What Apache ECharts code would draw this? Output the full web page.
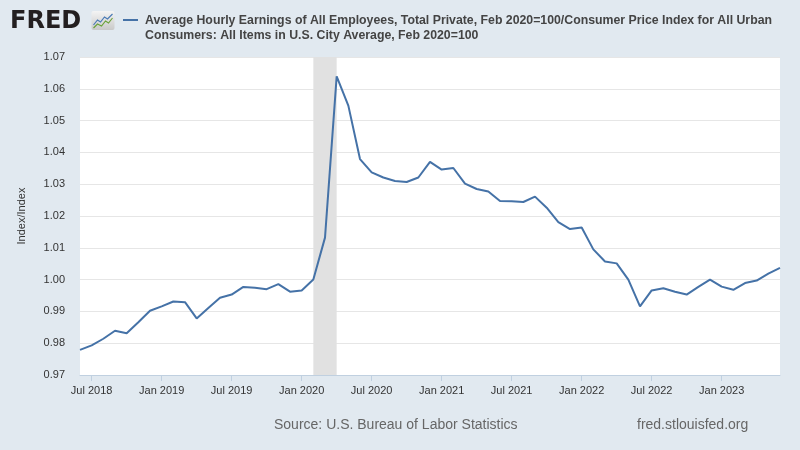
<!DOCTYPE html>
<html>
<head>
<meta charset="utf-8">
<script src="https://cdn.jsdelivr.net/npm/echarts@6/dist/echarts.min.js"></script>
<style>
  html, body { margin: 0; padding: 0; background: #e1e9f0; }
  #main { width: 800px; height: 450px; }
</style>
</head>
<body>
<div id="main"></div>
<script>
// months, Jun 2018 .. Jun 2023
var months = [
    '2018-06', '2018-07', '2018-08', '2018-09', '2018-10', '2018-11', '2018-12',
    '2019-01', '2019-02', '2019-03', '2019-04', '2019-05', '2019-06', '2019-07',
    '2019-08', '2019-09', '2019-10', '2019-11', '2019-12', '2020-01', '2020-02',
    '2020-03', '2020-04', '2020-05', '2020-06', '2020-07', '2020-08', '2020-09',
    '2020-10', '2020-11', '2020-12', '2021-01', '2021-02', '2021-03', '2021-04',
    '2021-05', '2021-06', '2021-07', '2021-08', '2021-09', '2021-10', '2021-11',
    '2021-12', '2022-01', '2022-02', '2022-03', '2022-04', '2022-05', '2022-06',
    '2022-07', '2022-08', '2022-09', '2022-10', '2022-11', '2022-12', '2023-01',
    '2023-02', '2023-03', '2023-04', '2023-05', '2023-06'
];
// earnings / cpi, Feb 2020 = 100 (as ratio)
var realEarnings = [
    0.9779, 0.9793, 0.9814, 0.9839, 0.9831, 0.9866, 0.9902,
    0.9916, 0.9931, 0.9929, 0.9878, 0.9911, 0.9943, 0.9953,
    0.9977, 0.9974, 0.9970, 0.9986, 0.9962, 0.9966, 1.0000,
    1.0132, 1.0639, 1.0547, 1.0379, 1.0337, 1.0321, 1.0310,
    1.0307, 1.0321, 1.0370, 1.0346, 1.0351, 1.0302, 1.0285,
    1.0277, 1.0247, 1.0246, 1.0244, 1.0261, 1.0226, 1.0181,
    1.0159, 1.0164, 1.0095, 1.0057, 1.0051, 1.0000, 0.9916,
    0.9966, 0.9973, 0.9962, 0.9953, 0.9977, 1.0000, 0.9978,
    0.9968, 0.9989, 0.9997, 1.0019, 1.0037
];
// recession (shaded)
var recession = ['2020-02', '2020-04'];
var yTicks = { min: 0.97, max: 1.07, step: 0.01 };

var monthNames = ['Jan', 'Feb', 'Mar', 'Apr', 'May', 'Jun', 'Jul', 'Aug', 'Sep', 'Oct', 'Nov', 'Dec'];
var seriesName = 'Average Hourly Earnings of All Employees, Total Private, Feb 2020=100/Consumer Price Index for All Urban Consumers: All Items in U.S. City Average, Feb 2020=100';

function isHalfYear(idx, val) {
    var m = val.split('-')[1];
    return m === '01' || m === '07';
}

var chart = echarts.init(document.getElementById('main'));

var option = {
    animation: false,
    backgroundColor: '#e1e9f0',
    textStyle: { fontFamily: 'Liberation Sans, Arial, sans-serif' },
    grid: {
        left: 80, right: 20, top: 57, bottom: 75,
        show: true, backgroundColor: '#ffffff', borderWidth: 0
    },
    xAxis: {
        type: 'category',
        data: months,
        boundaryGap: false,
        axisLine: { lineStyle: { color: '#c0d0e0', width: 1 } },
        axisTick: { interval: isHalfYear, length: 6, lineStyle: { color: '#c0d0e0' } },
        axisLabel: {
            interval: isHalfYear,
            color: '#333',
            fontSize: 11,
            margin: 10,
            formatter: function (v) {
                var p = v.split('-');
                return monthNames[parseInt(p[1], 10) - 1] + ' ' + p[0];
            }
        },
        splitLine: { show: false }
    },
    yAxis: {
        type: 'value',
        min: yTicks.min,
        max: yTicks.max,
        interval: yTicks.step,
        name: 'Index/Index',
        nameLocation: 'middle',
        nameRotate: 90,
        nameGap: 53,
        nameTextStyle: { color: '#333', fontSize: 11 },
        axisLine: { show: false },
        axisTick: { show: false },
        axisLabel: {
            color: '#333',
            fontSize: 11,
            margin: 15,
            formatter: function (v) { return v.toFixed(2); }
        },
        splitLine: { lineStyle: { color: '#e6e6e6', width: 1 } }
    },
    series: [
        {
            name: seriesName,
            type: 'line',
            data: realEarnings,
            showSymbol: false,
            lineStyle: { color: '#4572a7', width: 2 },
            itemStyle: { color: '#4572a7' },
            markArea: {
                silent: true,
                itemStyle: { color: '#e1e1e1' },
                data: [[{ xAxis: recession[0] }, { xAxis: recession[1] }]]
            }
        }
    ],
    graphic: [
        // FRED logo
        {
            type: 'text', left: 10, top: 10,
            style: {
                text: 'FRED',
                font: 'bold 24px "DejaVu Sans", "Liberation Sans", sans-serif',
                fill: '#231f20'
            }
        },
        {
            type: 'group', left: 91, top: 11,
            children: [
                {
                    type: 'rect', shape: { x: 0, y: 0, width: 23, height: 19, r: 2 },
                    style: {
                        fill: new echarts.graphic.LinearGradient(0, 0, 0, 1, [
                            { offset: 0, color: '#f4f4f4' }, { offset: 1, color: '#c9c9c9' }
                        ])
                    }
                },
                {
                    type: 'polyline',
                    shape: { points: [[2, 14], [6, 9], [9, 11], [13, 6], [16, 8], [21, 3]] },
                    style: { stroke: '#4a7ab5', lineWidth: 1.2, fill: null }
                },
                {
                    type: 'polyline',
                    shape: { points: [[2, 17], [6, 13], [10, 15], [14, 10], [17, 12], [21, 7]] },
                    style: { stroke: '#6aa23a', lineWidth: 1.2, fill: null }
                }
            ]
        },
        // legend
        {
            type: 'line', shape: { x1: 123, y1: 20, x2: 138, y2: 20 },
            style: { stroke: '#4572a7', lineWidth: 2 }
        },
        {
            type: 'text', left: 145, top: 13,
            style: {
                text: 'Average Hourly Earnings of All Employees, Total Private, Feb 2020=100/Consumer Price Index for All Urban\nConsumers: All Items in U.S. City Average, Feb 2020=100',
                fontSize: 12.3, fontWeight: 'bold', lineHeight: 15,
                fontFamily: 'Liberation Sans, Arial, sans-serif', fill: '#444'
            }
        },
        // source / footer
        {
            type: 'text', left: 274, top: 418,
            style: {
                text: 'Source: U.S. Bureau of Labor Statistics',
                fontSize: 14, fontFamily: 'Liberation Sans, Arial, sans-serif', fill: '#666'
            }
        },
        {
            type: 'text', left: 637, top: 418,
            style: {
                text: 'fred.stlouisfed.org',
                fontSize: 14, fontFamily: 'Liberation Sans, Arial, sans-serif', fill: '#666'
            }
        }
    ]
};
chart.setOption(option);
</script>
</body>
</html>
